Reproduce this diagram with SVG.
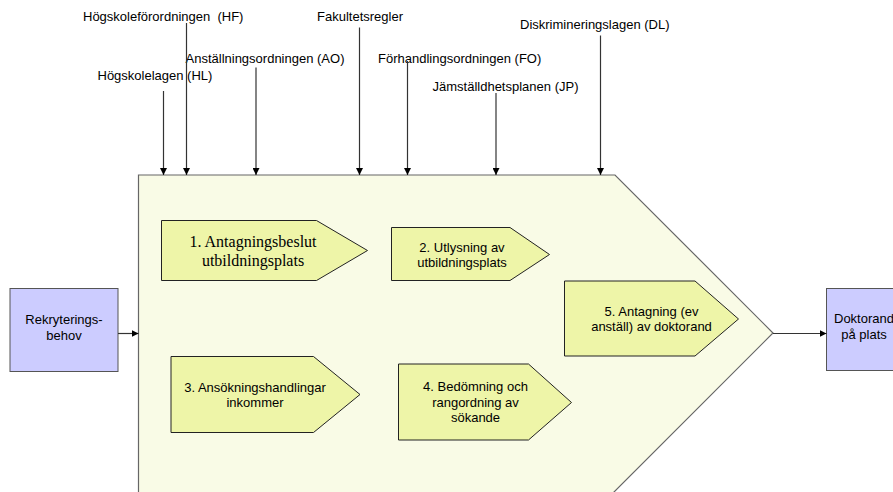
<svg xmlns="http://www.w3.org/2000/svg" width="893" height="492" viewBox="0 0 893 492">
  <style>
    .lbl { font-family: "Liberation Sans", Arial, sans-serif; font-size: 13px; fill: #000; white-space: pre; }
    .mid { text-anchor: middle; }
    .serif { font-family: "Liberation Serif", "Times New Roman", serif; font-size: 16px; }
    .box { fill: #CCCCFF; stroke: #555; stroke-width: 1; }
    .step { fill: #EEF5A8; stroke: #222; stroke-width: 1; }
    .frame { fill: #F9FBE6; stroke: #666; stroke-width: 1.2; }
    .wire { stroke: #333; stroke-width: 1.2; fill: none; marker-end: url(#head); }
  </style>
  <defs>
    <marker id="head" viewBox="0 0 10 10" refX="10" refY="5" markerWidth="7" markerHeight="7" markerUnits="userSpaceOnUse" orient="auto">
      <path d="M0,0 L10,5 L0,10 z" fill="#000"/>
    </marker>
  </defs>

  <!-- process frame (runs past the lower edge) -->
  <g id="process">
    <polygon class="frame" points="138.5,175 615,175 773,333 610,496 138.5,496"/>
  </g>

  <!-- regulations feeding into the process -->
  <g id="reg-hf"><text class="lbl" x="83" y="20.5" xml:space="preserve">Högskoleförordningen  (HF)</text></g>
  <g id="reg-fak"><text class="lbl" x="317" y="20.5">Fakultetsregler</text></g>
  <g id="reg-dl"><text class="lbl" x="520" y="28.5">Diskrimineringslagen (DL)</text></g>
  <g id="reg-ao"><text class="lbl" x="185.5" y="62.5">Anställningsordningen (AO)</text></g>
  <g id="reg-fo"><text class="lbl" x="378" y="62.5">Förhandlingsordningen (FO)</text></g>
  <g id="reg-hl"><text class="lbl" x="97.5" y="80">Högskolelagen (HL)</text></g>
  <g id="reg-jp"><text class="lbl" x="432.5" y="91">Jämställdhetsplanen (JP)</text></g>

  <!-- input / output -->
  <g id="rekrytering">
    <rect class="box" x="10" y="288.5" width="108" height="83"/>
    <text class="lbl mid" x="64" y="324">Rekryterings-</text>
    <text class="lbl mid" x="64" y="340">behov</text>
  </g>
  <g id="doktorand">
    <rect class="box" x="826.5" y="288.5" width="108" height="82"/>
    <text class="lbl mid" x="864" y="323">Doktorand</text>
    <text class="lbl mid" x="864" y="339">på plats</text>
  </g>

  <!-- steps -->
  <g id="step1">
    <polygon class="step" points="161.5,220.5 316.5,220.5 367.5,250.5 316.5,280.5 161.5,280.5"/>
    <text class="lbl serif mid" x="253" y="246.5">1. Antagningsbeslut</text>
    <text class="lbl serif mid" x="253" y="265.5">utbildningsplats</text>
  </g>
  <g id="step2">
    <polygon class="step" points="391.5,227.5 510,227.5 549.5,254.5 510,280.5 391.5,280.5"/>
    <text class="lbl mid" x="462" y="251.5">2. Utlysning av</text>
    <text class="lbl mid" x="462" y="267">utbildningsplats</text>
  </g>
  <g id="step3">
    <polygon class="step" points="171,356.5 313.5,356.5 360,394.5 313.5,432.5 171,432.5"/>
    <text class="lbl mid" x="255" y="391.5">3. Ansökningshandlingar</text>
    <text class="lbl mid" x="255" y="407">inkommer</text>
  </g>
  <g id="step4">
    <polygon class="step" points="398.5,364 528.5,364 571.5,402.5 528.5,440 398.5,440"/>
    <text class="lbl mid" x="475.5" y="390.5">4. Bedömning och</text>
    <text class="lbl mid" x="475.5" y="406.5">rangordning av</text>
    <text class="lbl mid" x="475.5" y="422">sökande</text>
  </g>
  <g id="step5">
    <polygon class="step" points="564.5,281 695,281 738.5,319 695,356 564.5,356"/>
    <text class="lbl mid" x="651.5" y="315.5">5. Antagning (ev</text>
    <text class="lbl mid" x="651.5" y="331">anställ) av doktorand</text>
  </g>

  <!-- connectors -->
  <g id="connectors">
    <line class="wire" x1="163.5" y1="91" x2="163.5" y2="175"/>
    <line class="wire" x1="186.5" y1="23" x2="186.5" y2="175"/>
    <line class="wire" x1="256" y1="67.5" x2="256" y2="175"/>
    <line class="wire" x1="359.5" y1="27.5" x2="359.5" y2="175"/>
    <line class="wire" x1="407.5" y1="61" x2="407.5" y2="175"/>
    <line class="wire" x1="496" y1="93" x2="496" y2="175"/>
    <line class="wire" x1="600.5" y1="35.5" x2="600.5" y2="175"/>
    <line class="wire" x1="118" y1="333.5" x2="138.5" y2="333.5"/>
    <line class="wire" x1="773" y1="333.5" x2="826.5" y2="333.5"/>
  </g>
</svg>
